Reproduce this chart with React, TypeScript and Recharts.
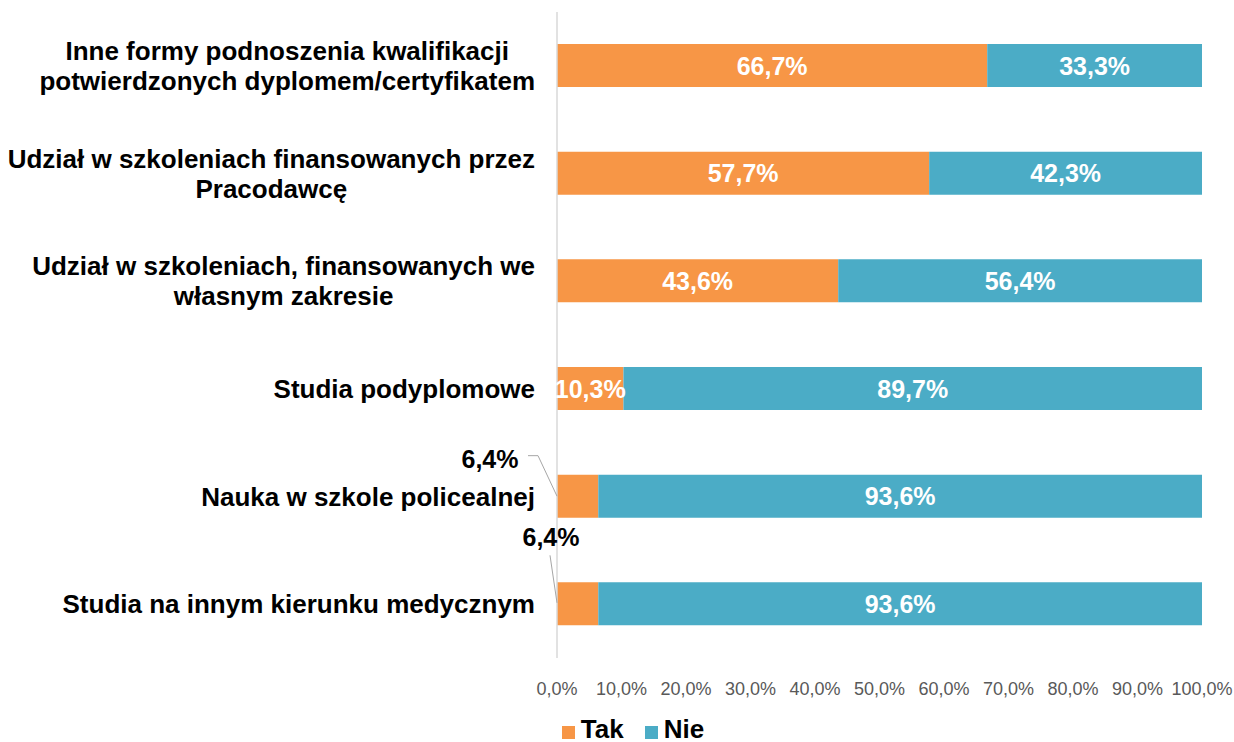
import React from 'react';
import { BarChart, Bar, XAxis, YAxis, LabelList, Legend } from 'recharts';

const categories: string[] = [
  'Inne formy podnoszenia kwalifikacji\npotwierdzonych dyplomem/certyfikatem',
  'Udział w szkoleniach finansowanych przez\nPracodawcę',
  'Udział w szkoleniach, finansowanych we\nwłasnym zakresie',
  'Studia podyplomowe',
  'Nauka w szkole policealnej',
  'Studia na innym kierunku medycznym',
];
const takValues: number[] = [66.7, 57.7, 43.6, 10.3, 6.4, 6.4];
const nieValues: number[] = [33.3, 42.3, 56.4, 89.7, 93.6, 93.6];
const xTicks: number[] = [0, 10, 20, 30, 40, 50, 60, 70, 80, 90, 100];
const seriesNames = { tak: 'Tak', nie: 'Nie' };

const data = categories.map((c, i) => ({ name: c, tak: takValues[i], nie: nieValues[i] }));

const ORANGE = '#F79646';
const BLUE = '#4BACC6';
const FAMILY = "'Liberation Sans', Arial, sans-serif";
const CAT_SIZE = 26;
const FONT = `bold ${CAT_SIZE}px ${FAMILY}`;

let ctx: CanvasRenderingContext2D | null = null;
function measure(s: string): number {
  if (!ctx) ctx = document.createElement('canvas').getContext('2d');
  if (!ctx) return s.length * 13;
  ctx.font = FONT;
  return ctx.measureText(s).width;
}

const fmt = (v: number) => v.toFixed(1).replace('.', ',') + '%';

const YTick = (props: any) => {
  const { x, y, payload } = props;
  const lines = String(payload.value).split('\n');
  const w = Math.max(...lines.map(measure));
  const cx = x - w / 2;
  const lh = 30;
  const start = y - ((lines.length - 1) * lh) / 2;
  return (
    <g>
      {lines.map((l, i) => (
        <text
          key={i}
          x={cx}
          y={start + i * lh}
          textAnchor="middle"
          dominantBaseline="central"
          fontFamily={FAMILY}
          fontWeight="bold"
          fontSize={CAT_SIZE}
          fill="#000"
        >
          {l}
        </text>
      ))}
    </g>
  );
};

const TakLabel = (props: any) => {
  const { x, y, width, height, value, index } = props;
  if (value >= 8) {
    return (
      <text
        x={x + width / 2}
        y={y + height / 2}
        textAnchor="middle"
        dominantBaseline="central"
        fontFamily={FAMILY}
        fontWeight="bold"
        fontSize={25}
        fill="#fff"
      >
        {fmt(value)}
      </text>
    );
  }
  const cy = y + height / 2;
  if (index === 4) {
    return (
      <g>
        <polyline
          points={`${x - 29},${y - 19} ${x - 19},${y - 19} ${x},${cy}`}
          fill="none"
          stroke="#a6a6a6"
          strokeWidth={1}
        />
        <text x={x - 67} y={y - 16} textAnchor="middle" dominantBaseline="central"
          fontFamily={FAMILY} fontWeight="bold" fontSize={25} fill="#000">
          {fmt(value)}
        </text>
      </g>
    );
  }
  return (
    <g>
      <polyline
        points={`${x - 7},${y - 27} ${x},${cy - 1}`}
        fill="none"
        stroke="#a6a6a6"
        strokeWidth={1}
      />
      <text x={x - 6} y={y - 45} textAnchor="middle" dominantBaseline="central"
        fontFamily={FAMILY} fontWeight="bold" fontSize={25} fill="#000">
        {fmt(value)}
      </text>
    </g>
  );
};

const NieLabel = (props: any) => {
  const { x, y, width, height, value } = props;
  return (
    <text
      x={x + width / 2}
      y={y + height / 2}
      textAnchor="middle"
      dominantBaseline="central"
      fontFamily={FAMILY}
      fontWeight="bold"
      fontSize={25}
      fill="#fff"
    >
      {fmt(value)}
    </text>
  );
};

const LegendContent = () => (
  <div
    style={{
      display: 'flex',
      justifyContent: 'center',
      alignItems: 'flex-end',
      height: 30,
      paddingLeft: 64,
      fontFamily: FAMILY,
      fontWeight: 'bold',
      fontSize: 26,
      color: '#000',
      lineHeight: '26px',
    }}
  >
    {[
      { name: seriesNames.tak, color: ORANGE },
      { name: seriesNames.nie, color: BLUE },
    ].map((it, i) => (
      <div key={i} style={{ display: 'flex', alignItems: 'flex-end', marginRight: i === 0 ? 21 : 0 }}>
        <span style={{ display: 'inline-block', width: 13, height: 13, background: it.color, marginRight: 6, marginBottom: 3 }} />
        <span>{it.name}</span>
      </div>
    ))}
  </div>
);

export default function App() {
  return (
    <div style={{ position: 'absolute', left: 0, top: 0, width: 1234, height: 742, background: '#fff' }}>
      <BarChart
        width={1234}
        height={742}
        data={data}
        layout="vertical"
        margin={{ top: 12, right: 32, left: 0, bottom: 0 }}
        barSize={43}
      >
        <XAxis
          type="number"
          domain={[0, 100]}
          ticks={xTicks}
          interval={0}
          tickFormatter={(v: number) => fmt(v)}
          axisLine={false}
          tickLine={false}
          tickSize={0}
          tickMargin={24}
          height={54}
          tick={{ fill: '#595959', fontSize: 18, fontFamily: FAMILY }}
        />
        <YAxis
          type="category"
          dataKey="name"
          width={557}
          tickLine={false}
          tickSize={0}
          tickMargin={22}
          axisLine={{ stroke: '#d9d9d9', strokeWidth: 1.5 }}
          tick={<YTick />}
          interval={0}
        />
        <Legend verticalAlign="bottom" height={30} content={<LegendContent />} />
        <Bar dataKey="tak" name={seriesNames.tak} stackId="a" fill={ORANGE} isAnimationActive={false}>
          <LabelList dataKey="tak" content={<TakLabel />} />
        </Bar>
        <Bar dataKey="nie" name={seriesNames.nie} stackId="a" fill={BLUE} isAnimationActive={false}>
          <LabelList dataKey="nie" content={<NieLabel />} />
        </Bar>
      </BarChart>
    </div>
  );
}
